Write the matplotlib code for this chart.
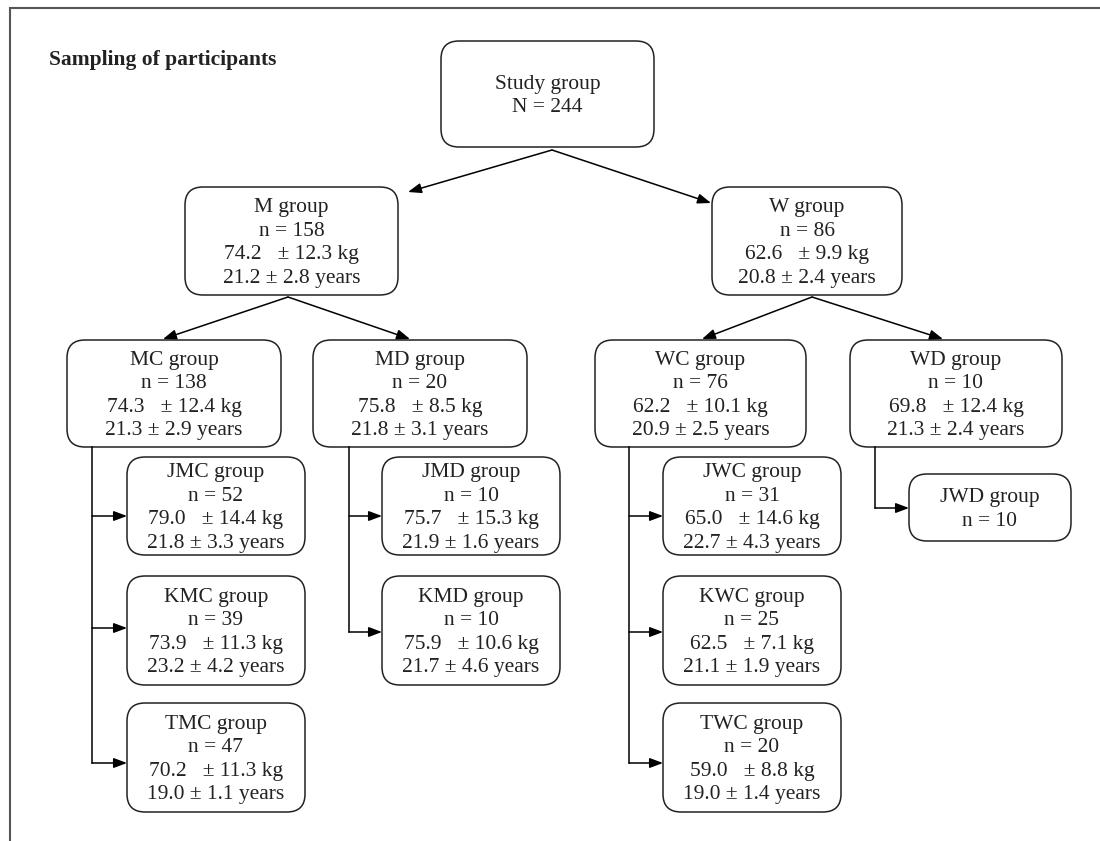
import matplotlib.pyplot as plt
from matplotlib.patches import FancyBboxPatch

plt.rcParams['font.family'] = ['Liberation Serif', 'DejaVu Serif']

# group data
names = ["Study group", "M group", "W group", "MC group", "MD group", "WC group", "WD group",
         "JMC group", "KMC group", "TMC group", "JMD group", "KMD group",
         "JWC group", "KWC group", "TWC group", "JWD group"]
n_vals = [244, 158, 86, 138, 20, 76, 10, 52, 39, 47, 10, 10, 31, 25, 20, 10]
weight_mean = [None, 74.2, 62.6, 74.3, 75.8, 62.2, 69.8, 79.0, 73.9, 70.2, 75.7, 75.9, 65.0, 62.5, 59.0, None]
weight_sd = [None, 12.3, 9.9, 12.4, 8.5, 10.1, 12.4, 14.4, 11.3, 11.3, 15.3, 10.6, 14.6, 7.1, 8.8, None]
age_mean = [None, 21.2, 20.8, 21.3, 21.8, 20.9, 21.3, 21.8, 23.2, 19.0, 21.9, 21.7, 22.7, 21.1, 19.0, None]
age_sd = [None, 2.8, 2.4, 2.9, 3.1, 2.5, 2.4, 3.3, 4.2, 1.1, 1.6, 4.6, 4.3, 1.9, 1.4, None]

# box layout in pixel units (x0, y0, x1, y1)
boxes = {
    "Study group": (441, 41, 654, 147),
    "M group": (185, 187, 398, 295),
    "W group": (712, 187, 902, 295),
    "MC group": (67, 340, 281, 447),
    "MD group": (313, 340, 527, 447),
    "WC group": (595, 340, 806, 447),
    "WD group": (850, 340, 1062, 447),
    "JMC group": (127, 457, 305, 555),
    "KMC group": (127, 576, 305, 685),
    "TMC group": (127, 703, 305, 812),
    "JMD group": (382, 457, 560, 555),
    "KMD group": (382, 576, 560, 685),
    "JWC group": (663, 457, 841, 555),
    "KWC group": (663, 576, 841, 685),
    "TWC group": (663, 703, 841, 812),
    "JWD group": (909, 474, 1071, 541),
}

fig = plt.figure(figsize=(11, 8.41), dpi=100)
ax = fig.add_axes([0, 0, 1, 1])
ax.set_xlim(0, 1100)
ax.set_ylim(841, 0)
ax.axis('off')

# frame (top and left)
ax.plot([9, 1100], [7.5, 7.5], color='#555555', lw=1.5, solid_capstyle='butt')
ax.plot([9.5, 9.5], [7, 841], color='#555555', lw=1.5, solid_capstyle='butt')

ax.text(49, 60, "Sampling of participants", fontsize=15.5, fontweight='bold',
        ha='left', va='center', color='#222222')

fs = 15.5
for i, name in enumerate(names):
    x0, y0, x1, y1 = boxes[name]
    ax.add_patch(FancyBboxPatch((x0, y0), x1 - x0, y1 - y0,
                                boxstyle="round,pad=0,rounding_size=18",
                                fc='white', ec='#222222', lw=1.1))
    if name == "Study group":
        lines = [name, f"N = {n_vals[i]}"]
    else:
        lines = [name, f"n = {n_vals[i]}"]
    if weight_mean[i] is not None:
        lines.append(f"{weight_mean[i]:.1f}   ± {weight_sd[i]:.1f} kg")
        lines.append(f"{age_mean[i]:.1f} ± {age_sd[i]:.1f} years")
    cx = (x0 + x1) / 2
    cy = (y0 + y1) / 2 + 2
    step = 23.5
    start = cy - step * (len(lines) - 1) / 2
    for k, ln in enumerate(lines):
        ax.text(cx, start + k * step, ln, fontsize=fs, ha='center', va='center',
                color='#222222')

arrow_kw = dict(arrowstyle='-|>,head_length=0.8,head_width=0.3', color='black',
                lw=1.1, shrinkA=0, shrinkB=0, mutation_scale=10)


def arrow(p0, p1):
    ax.annotate("", xy=p1, xytext=p0, arrowprops=arrow_kw)


# diagonal splits
arrow((552, 150), (408, 192))
arrow((552, 150), (711, 203))
arrow((288, 297), (163, 339))
arrow((288, 297), (410, 339))
arrow((812, 297), (702, 339))
arrow((812, 297), (943, 339))

# elbow connectors
line_kw = dict(color='black', lw=1.1)
ax.plot([92, 92], [447, 763], **line_kw)
for y in [516, 628, 763]:
    arrow((92, y), (127, y))

ax.plot([349, 349], [447, 632], **line_kw)
for y in [516, 632]:
    arrow((349, y), (382, y))

ax.plot([629, 629], [447, 763], **line_kw)
for y in [516, 632, 763]:
    arrow((629, y), (663, y))

ax.plot([875, 875], [447, 508], **line_kw)
arrow((875, 508), (909, 508))

fig.savefig("out.png", dpi=100)
